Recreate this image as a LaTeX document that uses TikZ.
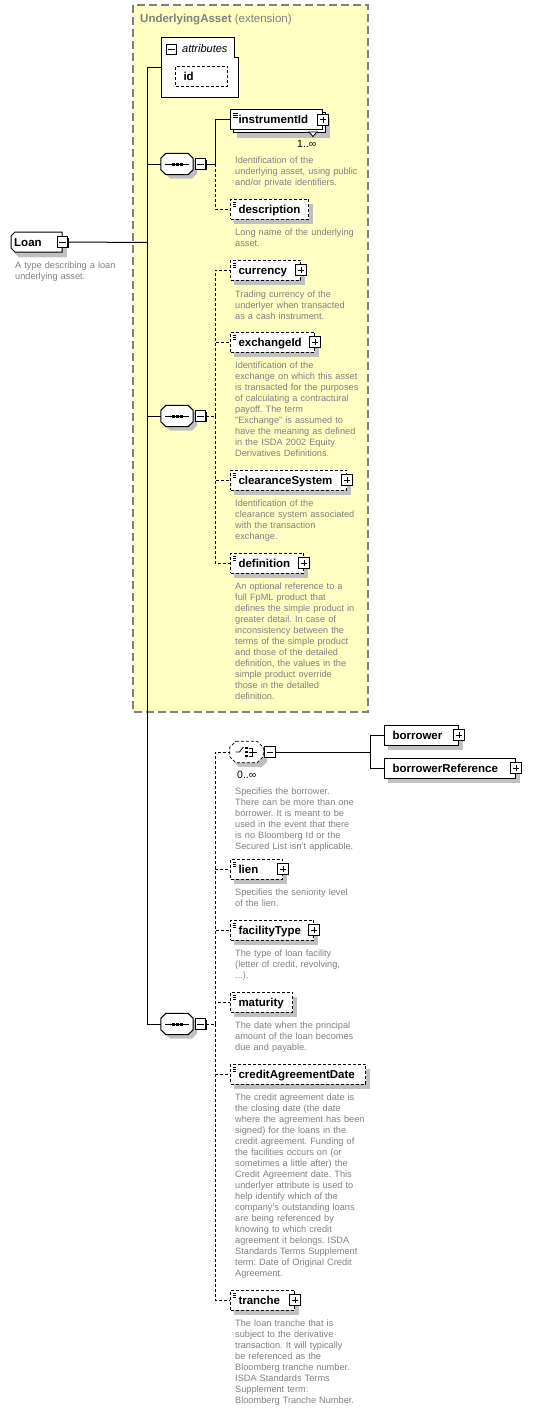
\documentclass[tikz,border=0pt]{standalone}
\usepackage{fontspec}
\setmainfont{Liberation Sans}
\usetikzlibrary{positioning}
\frenchspacing

\definecolor{extfill}{RGB}{255,255,196}
\definecolor{extline}{RGB}{128,128,128}
\definecolor{shadowgray}{RGB}{192,192,192}
\definecolor{notegray}{RGB}{128,128,128}

\newcommand{\namefont}{\fontsize{11.5}{13}\selectfont\bfseries}
\newcommand{\notefont}{\fontsize{9.2}{11}\selectfont}

% octagon round a node: options, node, corner cut
\newcommand{\octbox}[3]{\path[#1] ([xshift=#3]#2.north west) -- ([xshift=-#3]#2.north east)
    -- ([yshift=-#3]#2.north east) -- ([yshift=#3]#2.south east) -- ([xshift=-#3]#2.south east)
    -- ([xshift=#3]#2.south west) -- ([yshift=#3]#2.south west) -- ([yshift=-#3]#2.north west) -- cycle;}
% octagon shadow: centre x, centre y, half width, half height, cut
\newcommand{\octshadow}[5]{\fill[shadowgray, shift={({#1+4},{#2+4})}] ({-#3+#5},-#4) -- ({#3-#5},-#4)
    -- (#3,{-#4+#5}) -- (#3,{#4-#5}) -- ({#3-#5},#4) -- ({-#3+#5},#4) -- (-#3,{#4-#5}) -- (-#3,{-#4+#5}) -- cycle;}
% sequence mark
\newcommand{\seqmark}[1]{\draw[line width=1pt] ([xshift=4pt]#1.west) -- ([xshift=-4pt]#1.east);
    \foreach \d in {-4,0,4}
      \fill ([xshift=\d pt]#1.center) ++(-1.5pt,-1.5pt) rectangle ++(3pt,3pt);}

\tikzset{
  conn/.style={line width=1pt},
  optconn/.style={line width=1pt, dash pattern=on 3pt off 2pt},
  opt/.style={dash pattern=on 3pt off 2pt},
  elem/.style={draw, line width=1pt, fill=white, anchor=west, inner xsep=8pt, inner ysep=0pt,
    minimum height=20pt, text width={#1pt-16pt}, align=left, text height=8pt, text depth=0pt,
    font=\namefont},
  simple/.style={path picture={\foreach \k in {3,5,7}
      \draw[line width=0.7pt] ([xshift=2pt,yshift=-\k pt]path picture bounding box.north west) -- ++(5pt,0pt);}},
  pmbox/.style={draw, line width=0.9pt, fill=white, minimum size=10.5pt, inner sep=0pt},
  minus/.style={pmbox, path picture={
      \draw[line width=1pt] ([xshift=2pt]path picture bounding box.west) -- ([xshift=-2pt]path picture bounding box.east);}},
  plus/.style={pmbox, path picture={
      \draw[line width=1pt] ([xshift=2pt]path picture bounding box.west) -- ([xshift=-2pt]path picture bounding box.east)
        ([yshift=-2pt]path picture bounding box.north) -- ([yshift=2pt]path picture bounding box.south);}},
  seq/.style={minimum width=32pt, minimum height=21pt, inner sep=0pt},
  loan/.style={anchor=west, inner xsep=3pt, inner ysep=0pt, text width=45pt, minimum height=20pt,
    text height=8pt, text depth=0pt, font=\namefont},
  note/.style={anchor=base west, inner sep=0pt, text width=150pt, align=left, font=\notefont, text=notegray},
  card/.style={anchor=base west, inner sep=0pt, font=\fontsize{10.5}{12}\selectfont}
}

\begin{document}
\begin{tikzpicture}[x=1pt, y=-1pt]
    \useasboundingbox (0,0) rectangle (543,1410);

    % Extension box
    \draw[fill=extfill, draw=extline, line width=1.2pt, dash pattern=on 8pt off 4pt] (133,5) rectangle (368,712);

    % Shadows
    \foreach \x/\y/\w in {175/76.5/52, 233/123/92, 230/209/78, 230/270/70, 230/342/84, 230/480/116,
        230/563/73, 384/735/74, 384/768/131, 230/869/52, 230/930/83, 230/1002/62, 230/1074/135, 230/1300/64}
      \fill[shadowgray] ({\x+4},{\y-5}) rectangle ({\x+\w+4.5},{\y+15});
    \foreach \x/\y in {171.5/49.5, 62.5/242, 200.5/164, 200.5/416, 200.5/1024, 270/752, 322/120, 300/270,
        314/342, 346/480, 303/563, 458/735, 515/768, 282/869, 313/930, 294/1300}
      \fill ({\x-4.3},{\y-4.3}) rectangle ({\x+6.3},{\y+6.3});
    \foreach \y in {164,416,1024} \octshadow{177}{\y}{16}{10.5}{5}
    \octshadow{246.5}{752}{16.5}{10.5}{5}
    \fill[shadowgray] (19,237) -- (66.5,237) -- (66.5,257) -- (19,257) -- (15,253) -- (15,241) -- cycle;

    \node[anchor=base west, inner sep=0pt, text=notegray, font=\fontsize{11.5}{13}\selectfont] (ttl) at (140,23)
        {\textbf{UnderlyingAsset} (extension)};

    % Attributes
    \node[minimum width=77pt, minimum height=59pt, anchor=north west, inner sep=0pt] (attr) at (161,38) {};
    \draw[line width=1pt, fill=white] (attr.north west) -- ([xshift=-4pt]attr.north east) -- ++(0,20) -- ++(4,0)
        -- (attr.south east) -- (attr.south west) -- cycle;
    \node[minus] (attrm) at (171.5,49.5) {};
    \node[anchor=base west, inner sep=0pt, font=\fontsize{11}{13}\selectfont\itshape] (attrlbl) at (182,53) {attributes};
    \node[elem=52, opt] (id) at (175,76.5) {id};

    % Root
    \draw[line width=1pt, fill=white] (15,232) -- (62,232) -- (62,252) -- (15,252) -- (11,248) -- (11,236) -- cycle;
    \node[loan] (loan) at (11,242) {Loan};
    \node[minus] (loanm) at (loan.east) {};
    \node[note] (dloan) at (15,268) {A type describing a loan\\underlying asset.};

    % Sequences
    \foreach \s/\y in {s1/164, s2/416, s3/1024} {
      \node[seq] (\s) at (177,\y) {};
      \octbox{draw, line width=1pt, fill=white}{\s}{5pt}
      \seqmark{\s}
      \node[minus, right=1.5pt of \s] (\s m) {};
    }

    % First sequence
    \node[elem=92] (instrback) at (233,123) {};
    \draw[line width=0.8pt, fill=white] (309,132) -- (317,132) -- (313,136.5) -- cycle;
    \node[elem=92, simple] (instr) at (230,120) {instrumentId};
    \node[plus] (instrp) at (instr.east) {};
    \node[card] (instrc) at (297,147) {1..∞};
    \node[note] (dinstr) at (235,163) {Identification of the\\underlying asset, using public\\and/or private identifiers.};

    \node[elem=78, opt, simple] (descr) at (230,209) {description};
    \node[note] (ddescr) at (235,235) {Long name of the underlying\\asset.};

    % Second sequence
    \node[elem=70, opt, simple] (curr) at (230,270) {currency};
    \node[plus] (currp) at (curr.east) {};
    \node[note] (dcurr) at (235,297) {Trading currency of the\\underlyer when transacted\\as a cash instrument.};

    \node[elem=84, opt, simple] (exch) at (230,342) {exchangeId};
    \node[plus] (exchp) at (exch.east) {};
    \node[note] (dexch) at (235,368) {Identification of the\\exchange on which this asset\\is transacted for the purposes\\of calculating a contractural\\payoff. The term\\"Exchange" is assumed to\\have the meaning as defined\\in the ISDA 2002 Equity\\Derivatives Definitions.};

    \node[elem=116, opt, simple] (clear) at (230,480) {clearanceSystem};
    \node[plus] (clearp) at (clear.east) {};
    \node[note] (dclear) at (235,506) {Identification of the\\clearance system associated\\with the transaction\\exchange.};

    \node[elem=73, opt, simple] (defn) at (230,563) {definition};
    \node[plus] (defnp) at (defn.east) {};
    \node[note] (ddefn) at (235,589) {An optional reference to a\\full FpML product that\\defines the simple product in\\greater detail. In case of\\inconsistency between the\\terms of the simple product\\and those of the detailed\\definition, the values in the\\simple product override\\those in the detailed\\definition.};

    % Third sequence
    \node[seq, minimum width=33pt] (ch) at (246.5,752) {};
    \octbox{draw, line width=0.8pt, opt, fill=white}{ch}{6pt}
    \draw[line width=0.8pt] ([xshift=-11pt]ch.center) -- ([xshift=-7pt]ch.center) -- ([shift={(-3pt,5pt)}]ch.center);
    \foreach \d in {-4,0,4}
      \fill ([yshift=\d pt]ch.center) ++(-1.2pt,-1.2pt) rectangle ++(2.4pt,2.4pt);
    \draw[line width=0.8pt] ([shift={(2pt,4pt)}]ch.center) -- ([shift={(6pt,4pt)}]ch.center)
        -- ([shift={(6pt,-4pt)}]ch.center) -- ([shift={(2pt,-4pt)}]ch.center)
        ([xshift=2pt]ch.center) -- ([xshift=10pt]ch.center);
    \node[minus] (chm) at (270,752) {};
    \node[card] (chc) at (237,778) {0..∞};
    \node[note] (dch) at (235,794) {Specifies the borrower.\\There can be more than one\\borrower. It is meant to be\\used in the event that there\\is no Bloomberg Id or the\\Secured List isn't applicable.};

    \node[elem=74] (borr) at (384,735) {borrower};
    \node[plus] (borrp) at (borr.east) {};
    \node[elem=131] (borref) at (384,768) {borrowerReference};
    \node[plus] (borrefp) at (borref.east) {};

    \node[elem=52, opt, simple] (lien) at (230,869) {lien};
    \node[plus] (lienp) at (lien.east) {};
    \node[note] (dlien) at (235,895) {Specifies the seniority level\\of the lien.};

    \node[elem=83, opt, simple] (facil) at (230,930) {facilityType};
    \node[plus] (facilp) at (facil.east) {};
    \node[note] (dfacil) at (235,956) {The type of loan facility\\(letter of credit, revolving,\\...).};

    \node[elem=62, opt, simple] (matur) at (230,1002) {maturity};
    \node[note] (dmatur) at (235,1028) {The date when the principal\\amount of the loan becomes\\due and payable.};

    \node[elem=135, opt, simple] (credit) at (230,1074) {creditAgreementDate};
    \node[note] (dcredit) at (235,1100) {The credit agreement date is\\the closing date (the date\\where the agreement has been\\signed) for the loans in the\\credit agreement. Funding of\\the facilities occurs on (or\\sometimes a little after) the\\Credit Agreement date. This\\underlyer attribute is used to\\help identify which of the\\company's outstanding loans\\are being referenced by\\knowing to which credit\\agreement it belongs. ISDA\\Standards Terms Supplement\\term: Date of Original Credit\\Agreement.};

    \node[elem=64, opt, simple] (tranche) at (230,1300) {tranche};
    \node[plus] (tranchep) at (tranche.east) {};
    \node[note] (dtranche) at (235,1326) {The loan tranche that is\\subject to the derivative\\transaction. It will typically\\be referenced as the\\Bloomberg tranche number.\\ISDA Standards Terms\\Supplement term:\\Bloomberg Tranche Number.};

    % Connectors
    \coordinate (spine) at (147,242.5);
    \draw[conn] (loanm.east) -- (spine);
    \foreach \n in {attr,s1,s2,s3} \draw[conn] (spine) |- (\n.west);

    \coordinate (b1) at (215,164);
    \draw[conn] (s1m.east) -- (b1) |- (instr.west);
    \draw[optconn] (b1) |- (descr.west);

    \coordinate (b2) at (215,416);
    \draw[optconn] (s2m.east) -- (b2);
    \foreach \n in {curr,exch,clear,defn} \draw[optconn] (b2) |- (\n.west);

    \coordinate (b3) at (215,1024);
    \draw[optconn] (s3m.east) -- (b3);
    \foreach \n in {ch,lien,facil,matur,credit,tranche} \draw[optconn] (b3) |- (\n.west);

    \coordinate (b4) at (370,752);
    \draw[conn] (chm.east) -- (b4);
    \foreach \n in {borr,borref} \draw[conn] (b4) |- (\n.west);
\end{tikzpicture}
\end{document}
